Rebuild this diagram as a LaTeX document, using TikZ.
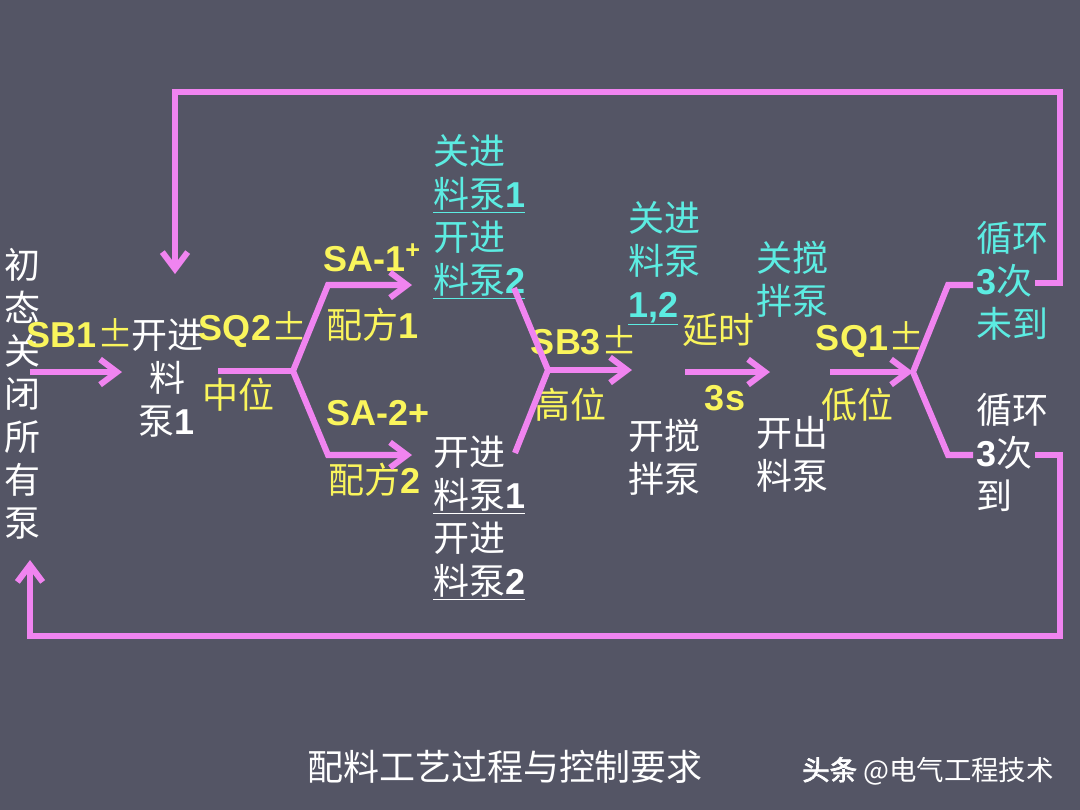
\documentclass[tikz,border=0pt]{standalone}
\usepackage{fontspec}
\setmainfont{Liberation Sans}
\newfontfamily\zhfont{Noto Sans CJK SC}
\newfontfamily\zhbold{Noto Sans CJK SC}[FakeBold=2.5]
\usetikzlibrary{arrows.meta}
\newcommand\lat[1]{{\normalfont\bfseries #1}}

\begin{document}
\begin{tikzpicture}[x=0.025cm,y=-0.025cm,line width=4.3pt,
  every node/.style={font=\zhfont\fontsize{25.6}{30.6}\selectfont,inner sep=0pt},
  flow/.style={draw=flowc,line cap=butt,line join=miter},
  tip/.style={-{Straight Barb[length=12pt,width=18pt]}},
  cond/.style={text=condc},
  stopbox/.style={text=stopc,align=left,anchor=north west},
  runbox/.style={text=white,align=left,anchor=north west}]

  \definecolor{bgc}{RGB}{84,85,101} % slate
  \definecolor{flowc}{RGB}{240,132,240} % pink
  \definecolor{condc}{RGB}{250,245,92} % yellow
  \definecolor{stopc}{RGB}{92,236,226} % cyan

  % Background
  \fill[bgc] (0,0) rectangle (1080,810);

  % Steps
  \node[text=white,align=center,anchor=north] (init) at (22,245)
      {初\\态\\关\\闭\\所\\有\\泵};
  \node[text=white,align=center,anchor=north] (fill1) at (167,316)
      {开进\\料\\泵\lat{1}};
  \node[stopbox] (mixa) at (430,131)
      {关进\\\underline{料泵\lat{1}}\\开进\\\underline{料泵\lat{2}}};
  \node[runbox] (mixb) at (430,433)
      {开进\\\underline{料泵\lat{1}}\\开进\\\underline{料泵\lat{2}}};
  \node[stopbox] (stir0) at (625,198) {关进\\料泵\\\underline{\lat{1,2}}};
  \node[runbox] (stir1) at (625,416) {开搅\\拌泵};
  \node[stopbox] (out0) at (753,238) {关搅\\拌泵};
  \node[runbox] (out1) at (753,413) {开出\\料泵};
  \node[stopbox] (loopa) at (973,218) {循环\\\lat{3}次\\未到};
  \node[runbox] (loopb) at (973,390) {循环\\\lat{3}次\\到};

  % Conditions
  \node[cond] (sb1) at (80,333) {\lat{SB1}±};
  \node[cond] (sq2) at (253,330) {\lat{SQ2}±};
  \node[cond] (mid) at (238,395) {中位};
  \node[cond] (sa1) at (372,258) {\lat{SA-1\textsuperscript{+}}};
  \node[cond] (rec1) at (373,325) {配方\lat{1}};
  \node[cond] (sa2) at (378,413) {\lat{SA-2+}};
  \node[cond] (rec2) at (375,480) {配方\lat{2}};
  \node[cond] (sb3) at (584,340) {\lat{SB3}±};
  \node[cond] (high) at (570,405) {高位};
  \node[cond] (delay) at (718,330) {延时};
  \node[cond] (sec) at (725,398) {\lat{3s}};
  \node[cond] (sq1) at (870,340) {\lat{SQ1}±};
  \node[cond] (low) at (857,405) {低位};

  % Junctions
  \coordinate (j1) at (293,371);
  \coordinate (j2) at (548,370);
  \coordinate (j3) at (913,372);

  % SB1 and SQ2 branch
  \draw[flow,tip] (30,372) -- (122,372);
  \draw[flow] (218,371) -- (j1);
  \draw[flow,tip] (j1) -- (328,285) -- (412,285);
  \draw[flow,tip] (j1) -- (328,455) -- (412,455);

  % Merge and SB3
  \draw[flow] (514,288) -- (j2) -- (515,453);
  \draw[flow,tip] (j2) -- (632,370);

  % Delay
  \draw[flow,tip] (685,372) -- (770,372);

  % SQ1 branch
  \draw[flow,tip] (830,372) -- (j3);
  \draw[flow] (973,285) -- (948,285) -- (j3) -- (948,455) -- (973,455);

  % Loop back
  \draw[flow,tip] (1035,283) -- (1060,283) |- (175,92) -- (175,274);
  \draw[flow,tip] (1035,455) -- (1060,455) |- (30,636) -- (30,560);

  % Captions
  \node[text=white] (title) at (505,767) {配料工艺过程与控制要求};
  \node[text=white,font=\zhfont\fontsize{19.5}{21}\selectfont] (mark) at (928,771)
      {{\zhbold 头条} @电气工程技术};

\end{tikzpicture}
\end{document}
